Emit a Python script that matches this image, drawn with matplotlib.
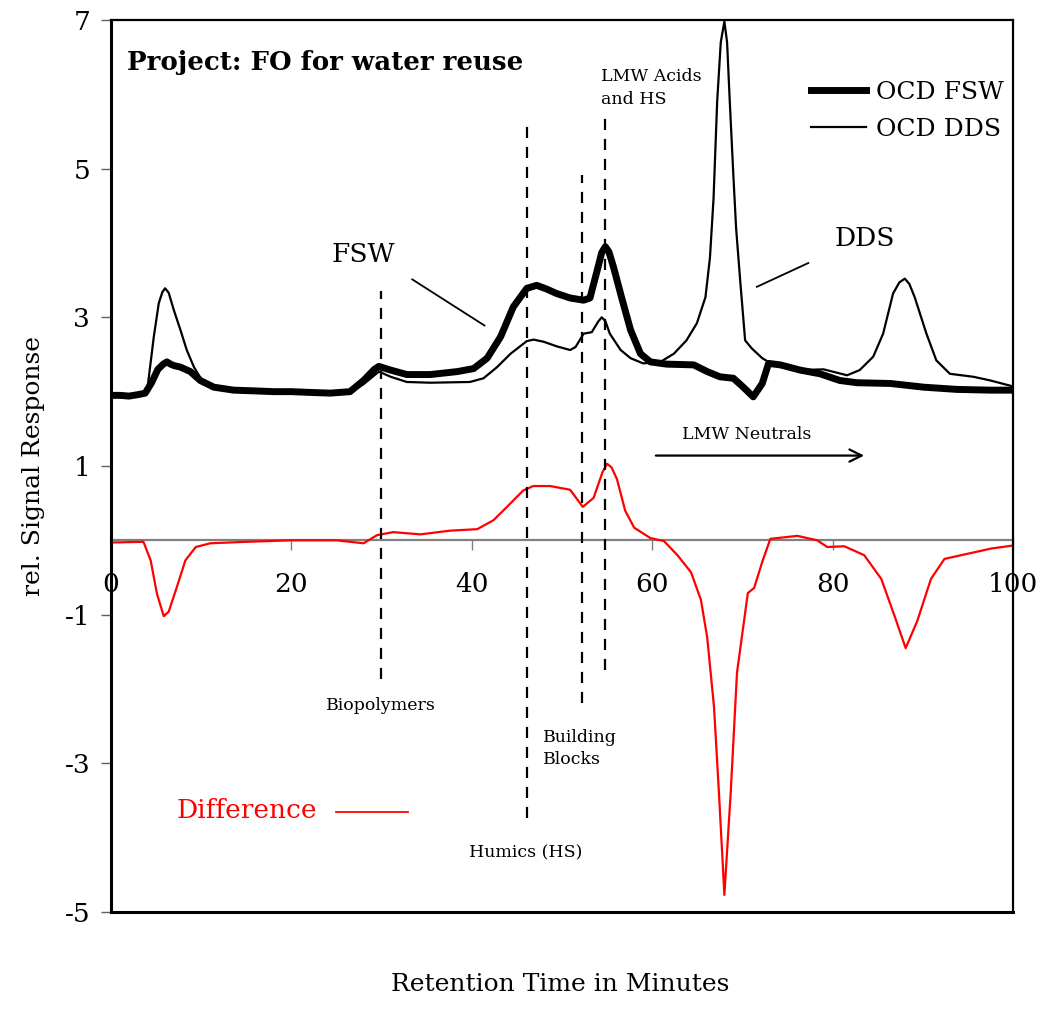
import numpy as np
import matplotlib.pyplot as plt

plt.rcParams['font.family'] = ['DejaVu Serif']

# OCD trace of the feed solution (FSW)
fsw_t = [0, 1, 2, 3, 3.8, 4.5, 5.2, 5.8, 6.2, 6.6, 7.0, 7.7, 8.8, 9.9, 11.4, 13.6, 16, 18,
         20, 22, 24.3, 26.5, 28.0, 29.2, 29.7, 30.2, 31.0, 32.8, 35.4, 38.4, 40.2, 41.7,
         43.2, 44.6, 46.1, 47.2, 48.3, 49.4, 50.9, 52.4, 53.1, 53.9, 54.4, 54.8, 55.2,
         55.7, 56.6, 57.6, 58.7, 59.8, 61.6, 64.6, 66.1, 67.5, 69.0, 70.1, 71.2, 72.2,
         72.9, 74.2, 76.4, 78.6, 80.8, 82.7, 86.4, 90.1, 93.8, 97.5, 100]
fsw_v = [1.95, 1.95, 1.94, 1.96, 1.98, 2.12, 2.30, 2.37, 2.40, 2.37, 2.35, 2.33, 2.27, 2.15,
         2.06, 2.02, 2.01, 2.00, 2.00, 1.99, 1.98, 2.00, 2.15, 2.30, 2.34, 2.32, 2.29, 2.23,
         2.23, 2.27, 2.31, 2.45, 2.74, 3.14, 3.39, 3.43, 3.38, 3.32, 3.26, 3.23, 3.26, 3.63,
         3.87, 3.95, 3.88, 3.68, 3.27, 2.83, 2.51, 2.40, 2.37, 2.36, 2.27, 2.20, 2.18, 2.06,
         1.93, 2.11, 2.38, 2.36, 2.29, 2.24, 2.15, 2.12, 2.11, 2.06, 2.03, 2.02, 2.02]

# OCD trace of the draw solution (DDS)
dds_t = [0, 3, 4.0, 4.75, 5.3, 5.7, 6.0, 6.4, 6.96, 7.7, 8.4, 9.2, 10.0, 11.4, 13.6, 16, 20,
         24.3, 26.5, 28.0, 29.7, 31.0, 32.8, 35.4, 39.8, 41.3, 42.8, 44.3, 46.1, 46.85,
         48.0, 49.4, 50.9, 51.5, 52.4, 53.3, 54.0, 54.4, 54.8, 55.3, 56.5, 57.6, 59.0,
         60.9, 62.4, 63.8, 64.95, 65.9, 66.4, 66.8, 67.2, 67.6, 68.0, 68.3, 68.6, 69.0,
         69.3, 69.75, 70.3, 71.05, 72.2, 72.9, 74.2, 76.4, 79.0, 81.6, 83.0, 84.5, 85.6,
         86.7, 87.4, 88.0, 88.5, 89.1, 90.4, 91.5, 93.0, 95.6, 97.5, 100]
dds_v = [1.95, 1.96, 2.00, 2.74, 3.19, 3.34, 3.39, 3.33, 3.10, 2.83, 2.56, 2.33, 2.17, 2.05,
         2.01, 2.00, 1.99, 1.97, 1.99, 2.10, 2.27, 2.20, 2.13, 2.12, 2.13, 2.18, 2.33, 2.51,
         2.68, 2.70, 2.67, 2.61, 2.56, 2.60, 2.78, 2.80, 2.94, 3.00, 2.95, 2.78, 2.56, 2.45,
         2.38, 2.40, 2.51, 2.69, 2.92, 3.27, 3.80, 4.60, 5.90, 6.70, 6.98, 6.70, 5.90, 4.90,
         4.20, 3.50, 2.69, 2.58, 2.45, 2.40, 2.36, 2.29, 2.30, 2.22, 2.29, 2.47, 2.78, 3.32,
         3.47, 3.52, 3.45, 3.27, 2.78, 2.42, 2.24, 2.20, 2.15, 2.07]

# FSW minus DDS
diff_t = [0, 3.6, 4.4, 5.1, 5.85, 6.4, 7.3, 8.25, 9.4, 11.0, 15, 20, 25, 28.0, 29.5, 31.3,
          34.3, 37.6, 40.6, 42.4, 43.9, 45.7, 46.8, 48.7, 50.9, 52.3, 53.5, 54.5, 55.0,
          55.5, 56.1, 57.0, 58.0, 59.8, 61.3, 62.8, 64.3, 65.4, 66.1, 66.85, 67.4, 68.0,
          68.7, 69.4, 70.6, 71.3, 72.2, 73.1, 74.6, 76.1, 78.3, 79.4, 81.3, 83.5, 85.4,
          86.9, 88.1, 89.4, 90.9, 92.4, 95.0, 97.6, 100]
diff_v = [-0.03, -0.02, -0.27, -0.72, -1.02, -0.96, -0.63, -0.27, -0.09, -0.04, -0.02, 0.0,
          0.0, -0.04, 0.07, 0.11, 0.08, 0.13, 0.15, 0.27, 0.45, 0.67, 0.73, 0.73, 0.68, 0.45,
          0.57, 0.92, 1.03, 0.98, 0.82, 0.40, 0.17, 0.03, -0.01, -0.20, -0.43, -0.80, -1.31,
          -2.24, -3.40, -4.77, -3.40, -1.78, -0.71, -0.64, -0.29, 0.02, 0.04, 0.06, 0.0,
          -0.09, -0.08, -0.20, -0.52, -1.03, -1.45, -1.08, -0.52, -0.25, -0.18, -0.11, -0.07]

# fraction boundaries (dashed markers)
frac_t = [29.9, 46.1, 52.2, 54.8]
frac_top = [3.36, 5.63, 4.91, 5.72]
frac_bottom = [-1.86, -3.74, -2.19, -1.75]

x_ticks = [0, 20, 40, 60, 80, 100]
y_ticks = [7, 5, 3, 1, -1, -3, -5]

fig = plt.figure(figsize=(10.42, 10.13), dpi=100)
ax = fig.add_axes([0.1065, 0.0997, 0.8657, 0.8806])
ax.set_xlim(0, 100)
ax.set_ylim(-5, 7)

l_fsw, = ax.plot(fsw_t, fsw_v, color='black', lw=5, solid_joinstyle='round')
l_dds, = ax.plot(dds_t, dds_v, color='black', lw=1.6)
ax.plot(diff_t, diff_v, color='red', lw=1.6)

for t, top, bot in zip(frac_t, frac_top, frac_bottom):
    ax.plot([t, t], [bot, top], color='black', lw=1.6, ls=(0, (5, 4)))

# spines: x axis runs through zero, frame kept on the other sides
ax.spines['bottom'].set_position(('data', 0))
ax.spines['bottom'].set_color('#808080')
ax.spines['bottom'].set_linewidth(1.6)
ax.spines['bottom'].set_zorder(0.5)
ax.spines['left'].set_linewidth(2.2)
ax.spines['top'].set_linewidth(1.6)
ax.spines['right'].set_linewidth(1.6)
ax.plot([0, 100], [-5, -5], color='black', lw=2.2, clip_on=False)

ax.set_xticks(x_ticks)
ax.set_yticks(y_ticks)
ax.set_yticklabels([str(v) for v in y_ticks])
ax.tick_params(axis='x', direction='out', length=7, width=1, color='#808080',
               labelsize=19, pad=16)
ax.tick_params(axis='y', direction='out', length=7, width=1, color='#606060',
               labelsize=19, pad=8)

ax.set_ylabel('rel. Signal Response', fontsize=18, labelpad=14)
fig.text(0.5375, 0.017, 'Retention Time in Minutes', fontsize=18, ha='center', va='bottom')

ax.text(1.8, 6.43, 'Project: FO for water reuse', fontsize=18.7, fontweight='bold',
        va='center', ha='left')

ax.legend([l_fsw, l_dds], ['OCD FSW', 'OCD DDS'], loc='upper right',
          bbox_to_anchor=(0.99, 0.932), frameon=False, fontsize=18, handlelength=2.2,
          handletextpad=0.4, labelspacing=0.56, borderpad=0, borderaxespad=0)

# series call-outs
ax.text(28.0, 3.85, 'FSW', fontsize=19, ha='center', va='center')
ax.plot([33.4, 41.4], [3.51, 2.89], color='black', lw=1.3)
ax.text(83.6, 4.06, 'DDS', fontsize=19, ha='center', va='center')
ax.plot([71.6, 77.3], [3.41, 3.73], color='black', lw=1.3)
ax.text(7.3, -3.63, 'Difference', fontsize=19, color='red', ha='left', va='center')
ax.plot([24.9, 32.96], [-3.66, -3.66], color='red', lw=1.3)

# fraction labels
ax.text(29.9, -2.22, 'Biopolymers', fontsize=12.5, ha='center', va='center')
ax.text(47.9, -2.80, 'Building\nBlocks', fontsize=12.5, ha='left', va='center',
        linespacing=1.45)
ax.text(46.0, -4.20, 'Humics (HS)', fontsize=12.5, ha='center', va='center')
ax.text(54.35, 6.08, 'LMW Acids\nand HS', fontsize=12.5, ha='left', va='center',
        linespacing=1.45)
ax.text(70.5, 1.43, 'LMW Neutrals', fontsize=12.5, ha='center', va='center')
ax.annotate('', xy=(83.8, 1.14), xytext=(60.1, 1.14),
            arrowprops=dict(arrowstyle='->', color='black', lw=1.6, mutation_scale=22))

fig.savefig('out.png', dpi=100)
